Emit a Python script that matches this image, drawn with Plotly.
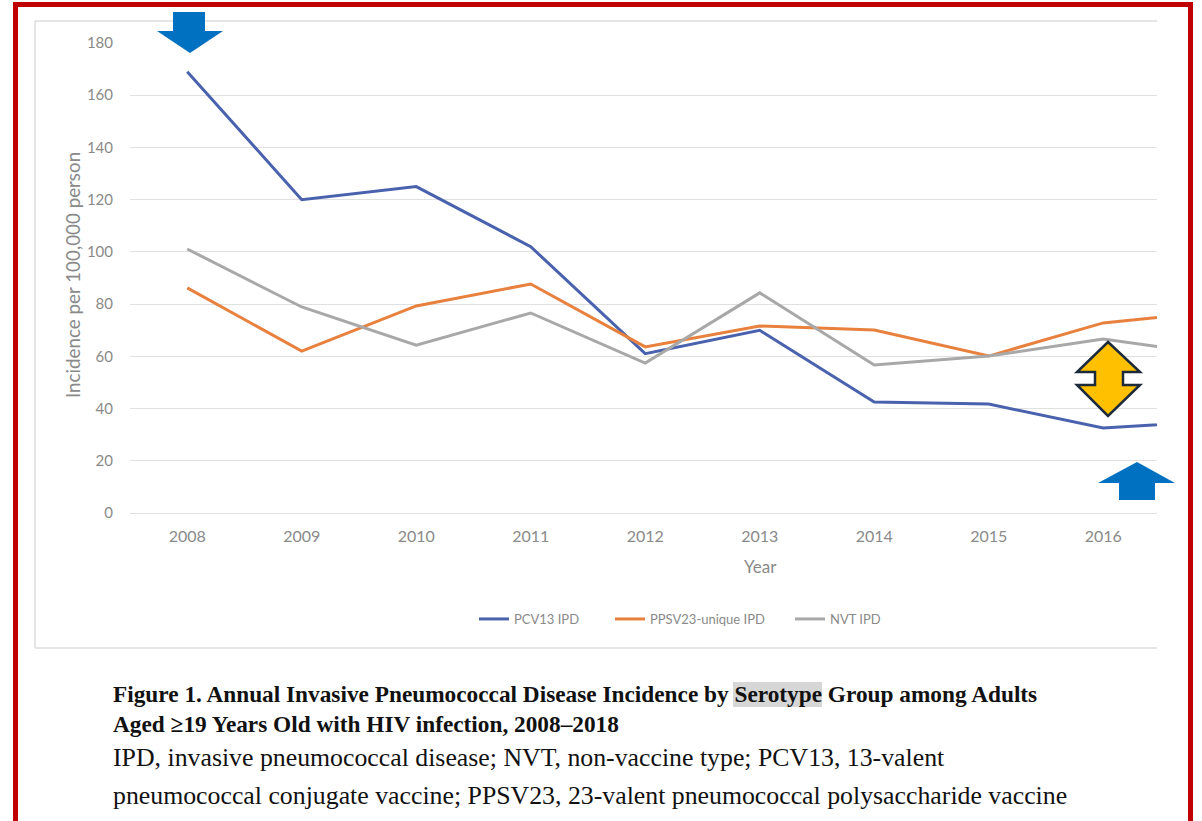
import plotly.graph_objects as go

# Annual IPD incidence per 100,000 persons by serotype group
years = [2008, 2009, 2010, 2011, 2012, 2013, 2014, 2015, 2016, 2017]
pcv13_ipd = [169, 120, 125, 102, 61, 70, 42.5, 41.7, 32.6, 35.2]
ppsv23_unique_ipd = [86.2, 62, 79.3, 87.7, 63.6, 71.6, 70.1, 60.1, 72.8, 77.2]
nvt_ipd = [101.1, 78.9, 64.3, 76.6, 57.4, 84.3, 56.7, 60.1, 66.6, 60.5]

series_names = ["PCV13 IPD", "PPSV23-unique IPD", "NVT IPD"]
series_colors = ["#4A62AE", "#E8803E", "#A8A8A8"]
legend_ids = ["legend", "legend2", "legend3"]
legend_left_px = [474, 610, 790]
y_ticks = [0, 20, 40, 60, 80, 100, 120, 140, 160, 180]

W, H = 1202, 821


def fx(x):
    return x / W


def fy(y):
    return 1 - y / H


def path(points):
    pts = [f"{fx(x):.5f},{fy(y):.5f}" for x, y in points]
    return "M " + " L ".join(pts) + " Z"


fig = go.Figure()
for name, vals, col, lg in zip(series_names, [pcv13_ipd, ppsv23_unique_ipd, nvt_ipd],
                               series_colors, legend_ids):
    fig.add_trace(go.Scatter(x=years, y=vals, name=name, mode="lines",
                             line=dict(color=col, width=3), legend=lg))

grey_text = "#8a8a8a"
ytick_font = dict(family="Lato, Open Sans, sans-serif", size=15, color=grey_text)
xtick_font = dict(family="Lato, Open Sans, sans-serif", size=16, color=grey_text)

shapes = [
    # outer red frame
    dict(type="rect", xref="paper", yref="paper", x0=fx(15.5), x1=fx(1190.5), y0=fy(4.5), y1=fy(840),
         line=dict(color="#C00000", width=5), fillcolor="rgba(0,0,0,0)", layer="above"),
    # chart box outline (left, top, bottom)
    dict(type="line", xref="paper", yref="paper", x0=fx(35), x1=fx(35), y0=fy(21), y1=fy(648),
         line=dict(color="#dcdcdc", width=1.5)),
    dict(type="line", xref="paper", yref="paper", x0=fx(35), x1=fx(1157), y0=fy(21), y1=fy(21),
         line=dict(color="#dcdcdc", width=1.5)),
    dict(type="line", xref="paper", yref="paper", x0=fx(35), x1=fx(1157), y0=fy(648), y1=fy(648),
         line=dict(color="#dcdcdc", width=1.5)),
    # highlight behind "Serotype"
    dict(type="rect", xref="paper", yref="paper", x0=fx(733), x1=fx(822), y0=fy(682), y1=fy(707),
         fillcolor="#d6d6d6", line=dict(width=0), layer="below"),
    # blue down arrow
    dict(type="path", xref="paper", yref="paper",
         path=path([(173, 12), (205, 12), (205, 31), (223, 31), (190, 53), (157, 31), (173, 31)]),
         fillcolor="#0070C0", line=dict(width=0), layer="above"),
    # blue up arrow
    dict(type="path", xref="paper", yref="paper",
         path=path([(1137, 462), (1175, 483), (1155, 483), (1155, 500), (1119, 500), (1119, 483), (1098, 483)]),
         fillcolor="#0070C0", line=dict(width=0), layer="above"),
    # yellow up-down arrow
    dict(type="path", xref="paper", yref="paper",
         path=path([(1108, 342), (1140, 372), (1123, 372), (1123, 385), (1140, 385), (1108, 416),
                    (1077, 385), (1095, 385), (1095, 372), (1077, 372)]),
         fillcolor="#FFC000", line=dict(color="#1C2A3A", width=2.5), layer="above"),
]

cap_bold = dict(family="Liberation Serif, Times New Roman, serif", size=23.3, color="#111111")
cap_reg = dict(family="Liberation Serif, Times New Roman, serif", size=25.8, color="#111111")

caption_title = ("<b>Figure 1. Annual Invasive Pneumococcal Disease Incidence by Serotype Group among Adults"
                 "<br>Aged \u226519 Years Old with HIV infection, 2008\u20132018</b>")

annotations = [
    dict(text="Year", xref="paper", yref="paper", x=fx(760), y=fy(566), showarrow=False,
         xanchor="center", yanchor="middle", font=dict(family="Lato, sans-serif", size=17, color=grey_text)),
    dict(text="Incidence per 100,000 person", xref="paper", yref="paper", x=fx(72), y=fy(275),
         showarrow=False, textangle=-90, xanchor="center", yanchor="middle",
         font=dict(family="Lato, sans-serif", size=18.8, color=grey_text)),
    dict(text=caption_title, xref="paper", yref="paper", x=fx(111), y=fy(708.5), showarrow=False,
         xanchor="left", yanchor="middle", align="left", font=cap_bold),
    dict(text="IPD, invasive pneumococcal disease; NVT, non-vaccine type; PCV13, 13-valent",
         xref="paper", yref="paper", x=fx(111), y=fy(757), showarrow=False, xanchor="left",
         yanchor="middle", font=cap_reg),
    dict(text="pneumococcal conjugate vaccine; PPSV23, 23-valent pneumococcal polysaccharide vaccine",
         xref="paper", yref="paper", x=fx(111), y=fy(795), showarrow=False, xanchor="left",
         yanchor="middle", font=cap_reg),
]

legend_style = dict(orientation="h", xanchor="left", yanchor="middle", y=fy(619),
                    font=dict(family="Lato, sans-serif", size=13, color=grey_text),
                    bgcolor="rgba(0,0,0,0)", itemwidth=30)

fig.update_layout(
    width=W, height=H, autosize=False,
    margin=dict(l=0, r=0, t=0, b=0, pad=0, autoexpand=False),
    paper_bgcolor="white", plot_bgcolor="white",
    xaxis=dict(domain=[fx(130), fx(1157)], range=[2007.5, 2016.47], tickmode="array",
               tickvals=years, ticktext=[str(y) for y in years], showgrid=False,
               showline=False, zeroline=False, ticks="", tickfont=xtick_font,
               ticklabelstandoff=12, automargin=False),
    yaxis=dict(domain=[fy(513), fy(43)], range=[0, 180], tickmode="array", tickvals=y_ticks,
               showgrid=True, gridcolor="#e0e0e0", gridwidth=1, zeroline=True,
               zerolinecolor="#e0e0e0", zerolinewidth=1, showline=False, ticks="",
               tickfont=ytick_font, ticklabelstandoff=16, automargin=False),
    legend=dict(x=fx(legend_left_px[0]), **legend_style),
    legend2=dict(x=fx(legend_left_px[1]), **legend_style),
    legend3=dict(x=fx(legend_left_px[2]), **legend_style),
    shapes=shapes,
    annotations=annotations,
    showlegend=True,
)

fig.write_html("out.html")
